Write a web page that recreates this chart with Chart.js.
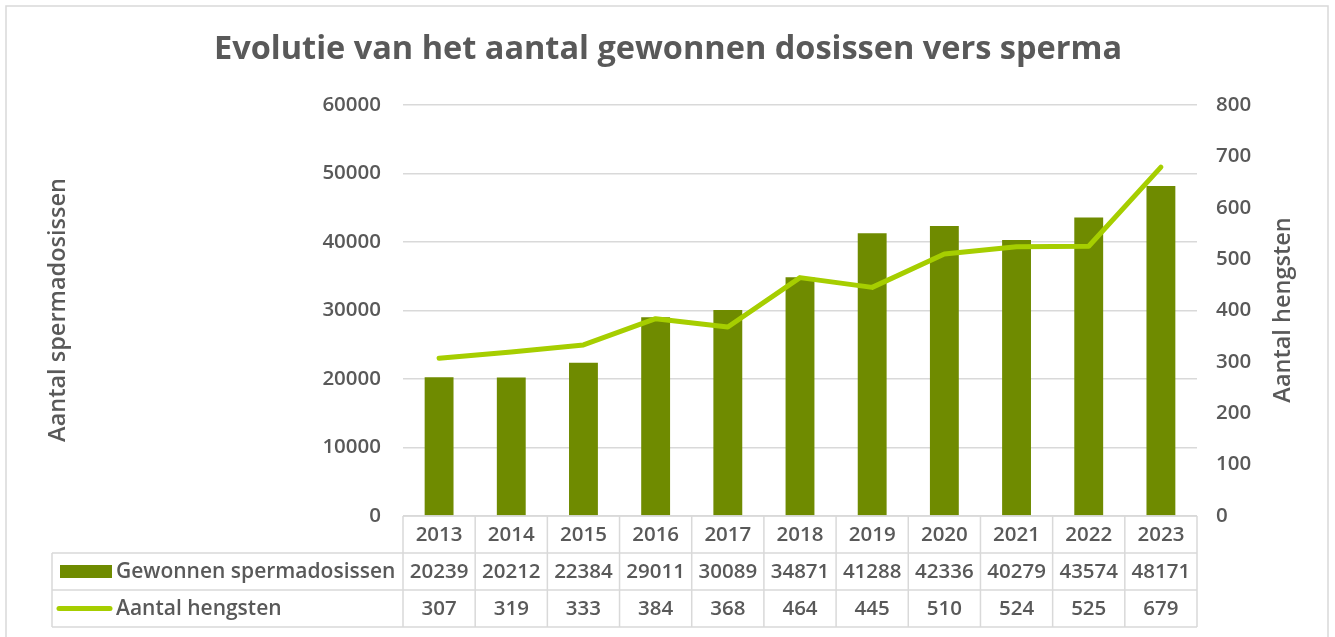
<!DOCTYPE html>
<html>
<head>
<meta charset="utf-8">
<script src="https://cdn.jsdelivr.net/npm/chart.js@4/dist/chart.umd.min.js"></script>
<style>
  html, body { margin: 0; padding: 0; background: #ffffff; }
  #wrap { width: 1335px; height: 637px; position: relative; }
</style>
</head>
<body>
<div id="wrap"><canvas id="c" width="1335" height="637"></canvas></div>
<script>
const years = ['2013','2014','2015','2016','2017','2018','2019','2020','2021','2022','2023'];
const dosissen = [20239, 20212, 22384, 29011, 30089, 34871, 41288, 42336, 40279, 43574, 48171];
const hengsten = [307, 319, 333, 384, 368, 464, 445, 510, 524, 525, 679];
const leftTicks = [0, 10000, 20000, 30000, 40000, 50000, 60000];
const rightTicks = [0, 100, 200, 300, 400, 500, 600, 700, 800];

const titleText = 'Evolutie van het aantal gewonnen dosissen vers sperma';
const leftTitle = 'Aantal spermadosissen';
const rightTitle = 'Aantal hengsten';
const seriesNames = ['Gewonnen spermadosissen', 'Aantal hengsten'];

const TEXT = '#595959';
const GRID = '#d9d9d9';
const BAR = '#6f8b00';
const LINE = '#a6ce00';
const FONT = '"Open Sans", "Noto Sans", sans-serif';

const extras = {
  id: 'extras',
  afterDraw(chart) {
    const ctx = chart.ctx;
    const ca = chart.chartArea;
    const xs = chart.scales.x;
    const n = years.length;
    const slot = (ca.right - ca.left) / n;
    ctx.save();
    // frame
    ctx.strokeStyle = GRID;
    ctx.lineWidth = 1.5;
    ctx.strokeRect(6, 6, 1322, 650);

    // title
    ctx.fillStyle = TEXT;
    ctx.font = 'bold 32.5px ' + FONT;
    ctx.textAlign = 'center';
    ctx.textBaseline = 'middle';
    ctx.fillText(titleText, 668, 50);

    // axis titles
    ctx.font = '600 23.5px ' + FONT;
    ctx.save();
    ctx.translate(58, 310);
    ctx.rotate(-Math.PI / 2);
    ctx.fillText(leftTitle, 0, 0);
    ctx.restore();
    ctx.save();
    ctx.translate(1283, 310);
    ctx.rotate(-Math.PI / 2);
    ctx.fillText(rightTitle, 0, 0);
    ctx.restore();

    // data table
    const top = ca.bottom;
    const rowH = 37;
    const tLeft = 52;
    ctx.strokeStyle = GRID;
    ctx.lineWidth = 1.5;
    ctx.beginPath();
    ctx.moveTo(ca.left, top); ctx.lineTo(ca.right, top);
    for (let r = 1; r <= 3; r++) {
      ctx.moveTo(tLeft, top + r * rowH); ctx.lineTo(ca.right, top + r * rowH);
    }
    for (let i = 0; i <= n; i++) {
      const x = ca.left + i * slot;
      ctx.moveTo(x, top); ctx.lineTo(x, top + 3 * rowH);
    }
    ctx.moveTo(tLeft, top + rowH); ctx.lineTo(tLeft, top + 3 * rowH);
    ctx.stroke();

    ctx.fillStyle = TEXT;
    ctx.font = '600 20.5px ' + FONT;
    ctx.textAlign = 'center';
    ctx.textBaseline = 'middle';
    for (let i = 0; i < n; i++) {
      const cx = xs.getPixelForValue(i);
      ctx.fillText(years[i], cx, top + rowH * 0.5 + 1);
      ctx.fillText(String(dosissen[i]), cx, top + rowH * 1.5 + 1);
      ctx.fillText(String(hengsten[i]), cx, top + rowH * 2.5 + 1);
    }
    // legend keys
    ctx.fillStyle = BAR;
    ctx.fillRect(60, top + rowH * 1.5 - 6.5, 52, 13);
    ctx.strokeStyle = LINE;
    ctx.lineWidth = 5;
    ctx.lineCap = 'round';
    ctx.beginPath();
    ctx.moveTo(59, top + rowH * 2.5);
    ctx.lineTo(110, top + rowH * 2.5);
    ctx.stroke();
    ctx.fillStyle = TEXT;
    ctx.textAlign = 'left';
    ctx.font = '600 21px ' + FONT;
    ctx.fillText(seriesNames[0], 116, top + rowH * 1.5 + 1);
    ctx.fillText(seriesNames[1], 116, top + rowH * 2.5 + 1);
    ctx.restore();
  }
};

new Chart(document.getElementById('c'), {
  type: 'bar',
  data: {
    labels: years,
    datasets: [
      {
        type: 'line',
        label: seriesNames[1],
        data: hengsten,
        yAxisID: 'y1',
        borderColor: LINE,
        backgroundColor: LINE,
        borderWidth: 5,
        pointRadius: 0,
        borderCapStyle: 'round',
        borderJoinStyle: 'round',
        tension: 0,
        order: 0
      },
      {
        type: 'bar',
        label: seriesNames[0],
        data: dosissen,
        yAxisID: 'y',
        backgroundColor: BAR,
        borderWidth: 0,
        categoryPercentage: 1,
        barPercentage: 0.4,
        order: 1
      }
    ]
  },
  options: {
    responsive: false,
    animation: false,
    devicePixelRatio: 1,
    layout: { padding: { top: 105, bottom: 121, left: 40, right: 0 } },
    plugins: {
      legend: { display: false },
      title: { display: false },
      tooltip: { enabled: false }
    },
    scales: {
      x: { display: false, offset: true },
      y: {
        position: 'left',
        min: 0, max: 60000,
        afterBuildTicks(scale) { scale.ticks = leftTicks.map(v => ({ value: v })); },
        afterFit(scale) { scale.width = 363; },
        ticks: {
          color: TEXT,
          font: { family: FONT, size: 20.5, weight: '600' },
          padding: 22,
          callback: (v) => String(v)
        },
        grid: { color: GRID, lineWidth: 1.5, drawTicks: false },
        border: { display: false }
      },
      y1: {
        position: 'right',
        min: 0, max: 800,
        afterBuildTicks(scale) { scale.ticks = rightTicks.map(v => ({ value: v })); },
        afterFit(scale) { scale.width = 138; },
        ticks: {
          color: TEXT,
          font: { family: FONT, size: 20.5, weight: '600' },
          padding: 19,
          callback: (v) => String(v)
        },
        grid: { display: false, drawTicks: false },
        border: { display: false }
      }
    }
  },
  plugins: [extras]
});
</script>
</body>
</html>
